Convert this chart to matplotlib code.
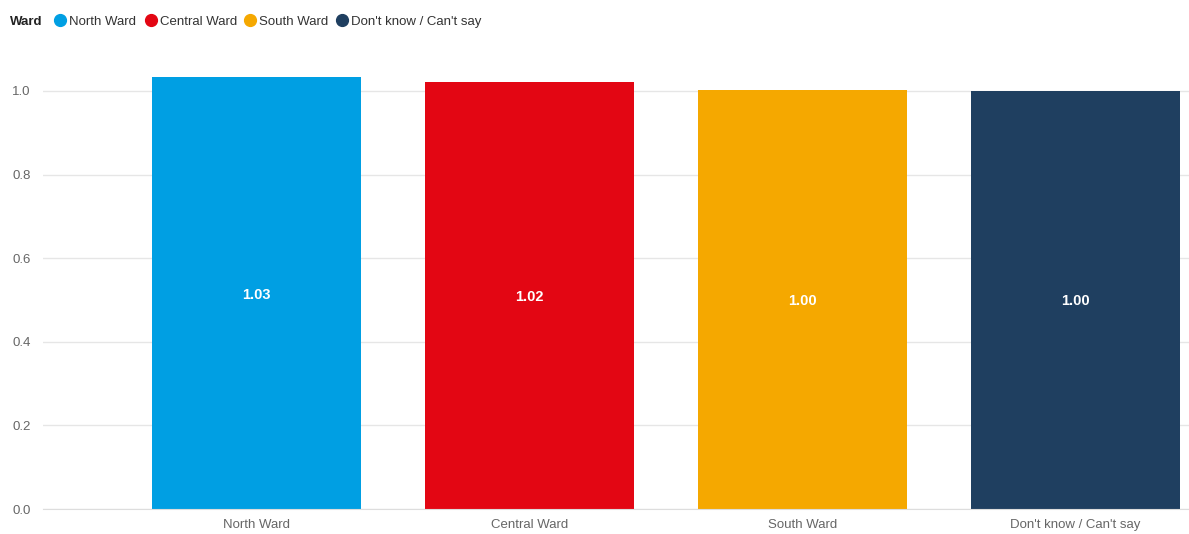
import matplotlib
matplotlib.use("Agg")
import matplotlib.pyplot as plt
from matplotlib.lines import Line2D

categories = ["North Ward", "Central Ward", "South Ward", "Don't know / Can't say"]
values = [1.033, 1.021, 1.002, 1.000]
labels = ["1.03", "1.02", "1.00", "1.00"]
colors = ["#009FE3", "#E30613", "#F5A800", "#1F3F60"]
yticks = [0.0, 0.2, 0.4, 0.6, 0.8, 1.0]

plt.rcParams['font.family'] = ['Liberation Sans', 'DejaVu Sans']

W, H = 1189, 534
fig = plt.figure(figsize=(W / 100, H / 100), dpi=100)
ax = fig.add_axes([43 / W, (H - 509) / H, 1146 / W, 449 / H])

x = list(range(len(categories)))
ax.bar(x, values, width=0.766, color=colors, zorder=3)
for xi, v, lab in zip(x, values, labels):
    ax.text(xi, v / 2, lab, ha="center", va="center_baseline", color="white",
            fontsize=10.5, fontweight="bold", zorder=4)

ax.set_xlim(-0.782, 3.416)
ax.set_ylim(0, 1.074)
ax.set_yticks(yticks)
ax.set_yticklabels([f"{t:.1f}" for t in yticks], color="#666666", fontsize=9.5)
ax.set_xticks(x)
ax.set_xticklabels(categories, color="#666666", fontsize=9.5)
ax.tick_params(axis="both", length=0)
ax.tick_params(axis="y", pad=9)
ax.tick_params(axis="x", pad=7.5)
ax.grid(axis="y", color="#e6e6e6", linewidth=1, zorder=0)
for s in ["top", "right", "left"]:
    ax.spines[s].set_visible(False)
ax.spines["bottom"].set_color("#dddddd")
ax.spines["bottom"].set_zorder(5)

# Legend
ty = 1 - 20 / H
tyt = 1 - 20.5 / H
fig.text(10 / W, tyt, "Ward", fontweight="bold", fontsize=9.5, va="center_baseline", ha="left", color="#222222")
circ_x = [60, 151, 250, 342]
for cx, c, name in zip(circ_x, colors, categories):
    fig.add_artist(Line2D([cx / W], [ty], marker="o", markersize=8.5, color=c,
                          transform=fig.transFigure, linestyle="none"))
    fig.text((cx + 9) / W, tyt, name, fontsize=9.5, va="center_baseline", ha="left", color="#333333")

fig.savefig("out.png", dpi=100)
